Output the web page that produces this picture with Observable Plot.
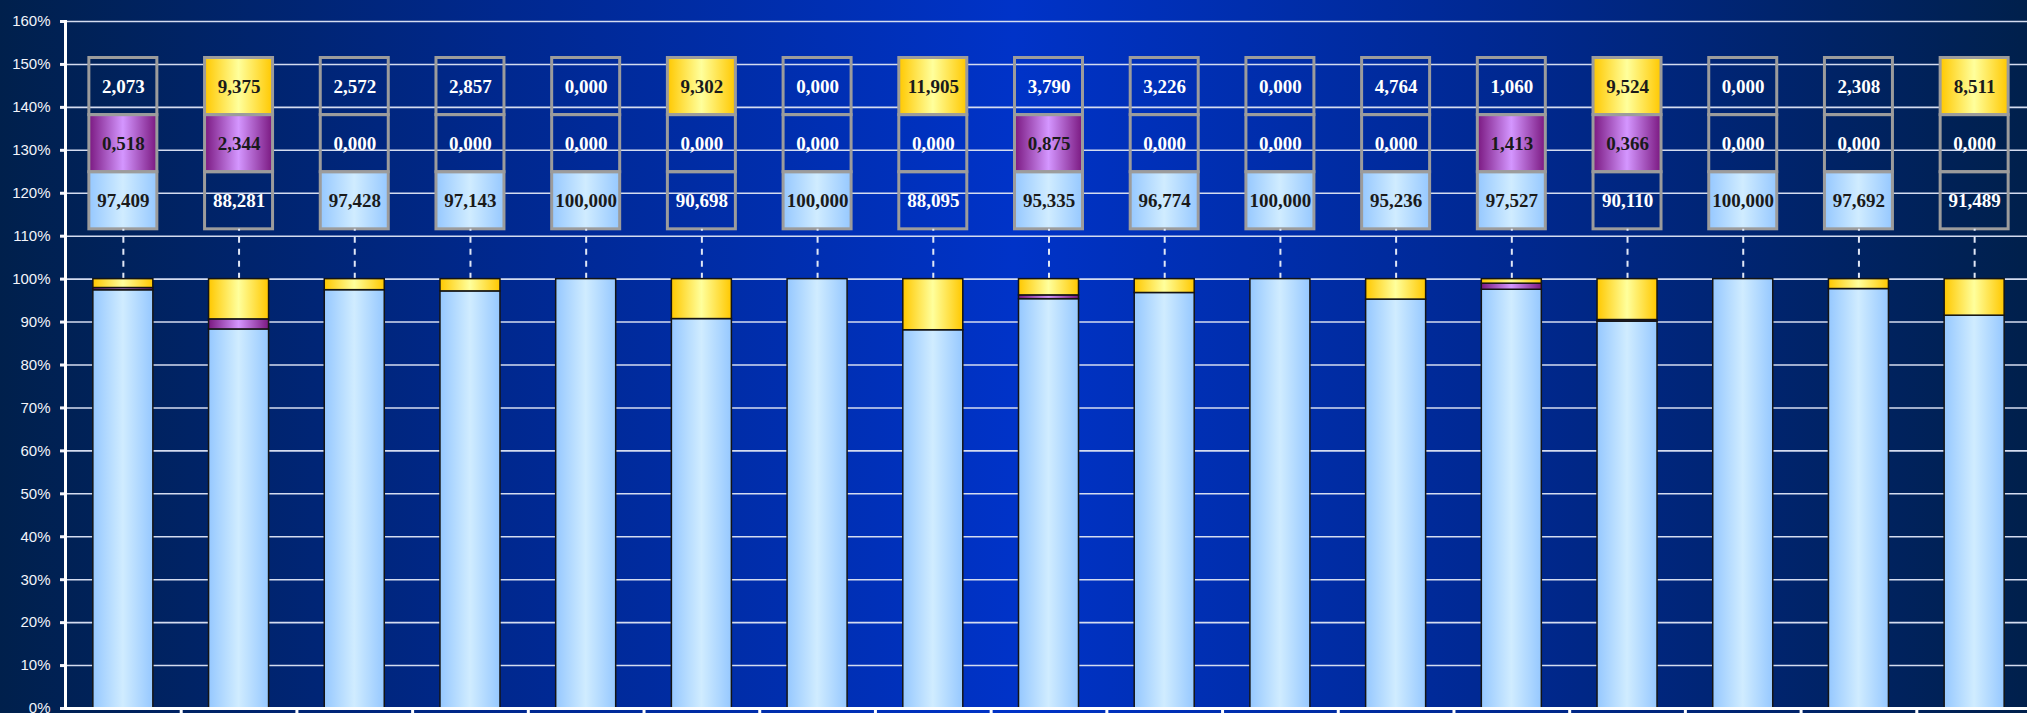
<!DOCTYPE html>
<html>
<head>
<meta charset="utf-8">
<script src="https://cdn.jsdelivr.net/npm/d3@7"></script>
<script src="https://cdn.jsdelivr.net/npm/@observablehq/plot@0.6"></script>
<style>
  html, body { margin: 0; padding: 0; width: 2027px; height: 713px; overflow: hidden; }
  body { background: linear-gradient(to right, #00204c 0%, #00288f 25%, #0033c8 50%, #00288f 75%, #00204c 100%); }
  #chart svg { display: block; background: transparent; }
</style>
</head>
<body>
<div id="chart"></div>
<script>
// ---- data ----
const categories = ["1","2","3","4","5","6","7","8","9","10","11","12","13","14","15","16","17"];
const blueValues   = [97.409, 88.281, 97.428, 97.143, 100.000, 90.698, 100.000, 88.095, 95.335, 96.774, 100.000, 95.236, 97.527, 90.110, 100.000, 97.692, 91.489];
const purpleValues = [0.518, 2.344, 0.000, 0.000, 0.000, 0.000, 0.000, 0.000, 0.875, 0.000, 0.000, 0.000, 1.413, 0.366, 0.000, 0.000, 0.000];
const yellowValues = [2.073, 9.375, 2.572, 2.857, 0.000, 9.302, 0.000, 11.905, 3.790, 3.226, 0.000, 4.764, 1.060, 9.524, 0.000, 2.308, 8.511];
const yTicks = [0,10,20,30,40,50,60,70,80,90,100,110,120,130,140,150,160];
// table rows (in % units): bottom, blue/purple boundary, purple/yellow boundary, top
const tableEdges = [111.6, 124.9, 138.2, 151.5];

// ---- derived tables ----
const seriesDefs = [
  {key: "blue", values: blueValues, grad: "url(#g-blue)", hi: v => v >= 95},
  {key: "purple", values: purpleValues, grad: "url(#g-purple)", hi: v => v > 0},
  {key: "yellow", values: yellowValues, grad: "url(#g-yellow)", hi: v => v >= 5}
];
const segments = [];
const cells = [];
categories.forEach((c, i) => {
  let base = 0;
  seriesDefs.forEach((s, j) => {
    const v = s.values[i];
    segments.push({cat: c, key: s.key, y1: base, y2: base + v, v});
    base += v;
    cells.push({cat: c, key: s.key, y1: tableEdges[j], y2: tableEdges[j + 1], v, hi: s.hi(v), grad: s.grad});
  });
});
const fmt = v => d3.format(".3f")(v).replace(".", ",");

const width = 2027, height = 713;
const step = (width + 5 - 65) / categories.length;
const barInset = (step - 60) / 2;
const cellInset = (step - 68) / 2;

const marks = [
  Plot.ruleY(yTicks.filter(d => d > 0), {stroke: "#d4dcf0", strokeWidth: 1.6}),
];
// table cells filled
seriesDefs.forEach(s => {
  marks.push(Plot.barY(cells.filter(d => d.key === s.key && d.hi), {
    x: "cat", y1: "y1", y2: "y2", fill: s.grad, insetLeft: cellInset, insetRight: cellInset
  }));
});
marks.push(
  Plot.barY(cells, {x: "cat", y1: "y1", y2: "y2", fill: "none", stroke: "#9c9c9c", strokeWidth: 3,
    insetLeft: cellInset, insetRight: cellInset}),
  Plot.text(cells, {x: "cat", y: d => (d.y1 + d.y2) / 2, text: d => fmt(d.v),
    fill: d => d.hi ? "#1a1a1a" : "#ffffff",
    fontFamily: "Liberation Serif", fontWeight: "bold", fontSize: 19}),
  Plot.ruleX(categories, {x: d => d, y1: 100, y2: tableEdges[0], stroke: "#dfe6f6", strokeWidth: 2, strokeDasharray: "6,6"})
);
// stacked bars
seriesDefs.forEach(s => {
  marks.push(Plot.barY(segments.filter(d => d.key === s.key && d.v > 0), {
    x: "cat", y1: "y1", y2: "y2", fill: s.grad, stroke: "#141414", strokeWidth: 1.5,
    insetLeft: barInset, insetRight: barInset
  }));
});
// axes
marks.push(
  Plot.axisY({ticks: yTicks, tickFormat: d => d + "%", tickSize: 5, tickPadding: 10,
    fontSize: 15, fontFamily: "Liberation Sans", color: "#f2f4fa", strokeWidth: 3}),
  Plot.frame({anchor: "left", stroke: "#ffffff", strokeWidth: 3}),
  Plot.ruleY([0], {stroke: "#ffffff", strokeWidth: 3}),
  Plot.ruleX(categories, {x: d => d, y1: 0, y2: -3, dx: step / 2, stroke: "#ffffff", strokeWidth: 3})
);

const svg = Plot.plot({
  width, height,
  marginLeft: 65, marginRight: -5, marginTop: 21, marginBottom: 5,
  x: {domain: categories, padding: 0, round: false, axis: null},
  y: {domain: [0, 160]},
  style: {background: "transparent", overflow: "hidden"},
  marks
});

const defs = d3.select(svg).insert("defs", ":first-child");
function grad(id, edge, mid) {
  const g = defs.append("linearGradient").attr("id", id).attr("x1", 0).attr("x2", 1).attr("y1", 0).attr("y2", 0);
  g.append("stop").attr("offset", "0%").attr("stop-color", edge);
  g.append("stop").attr("offset", "50%").attr("stop-color", mid);
  g.append("stop").attr("offset", "100%").attr("stop-color", edge);
}
grad("g-blue", "#96c8ff", "#d0ecff");
grad("g-yellow", "#ffc800", "#ffff9c");
grad("g-purple", "#7a1880", "#d496ff");

document.getElementById("chart").appendChild(svg);
</script>
</body>
</html>
